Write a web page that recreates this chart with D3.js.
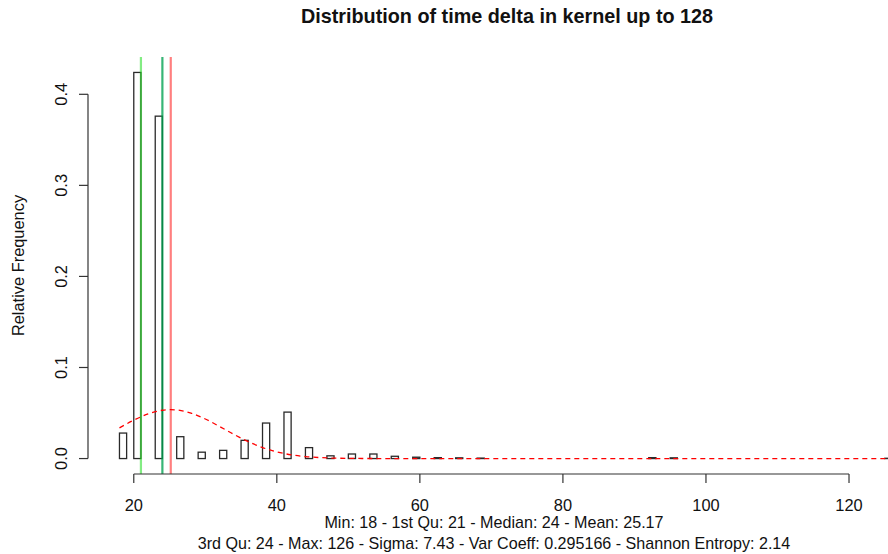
<!DOCTYPE html>
<html><head><meta charset="utf-8">
<script src="https://cdn.jsdelivr.net/npm/d3@7"></script>
<style>
html,body{margin:0;padding:0;background:#fff;}
svg{display:block;font-family:"Liberation Sans", Arial, Helvetica, sans-serif;}
</style></head><body>
<svg id="chart" width="888" height="554"></svg>
<script>
// ---------------- data ----------------
const chartTitle = "Distribution of time delta in kernel up to 128";
const yAxisLabel = "Relative Frequency";
const subLines = [
  "Min: 18 - 1st Qu: 21 - Median: 24 - Mean: 25.17",
  "3rd Qu: 24 - Max: 126 - Sigma: 7.43 - Var Coeff: 0.295166 - Shannon Entropy: 2.14"
];
const xTicks = [20, 40, 60, 80, 100, 120];
const yTicks = [0, 0.1, 0.2, 0.3, 0.4];
const yTickLabels = ["0.0", "0.1", "0.2", "0.3", "0.4"];
const histBreaksRange = [18, 126];          // unit-width bins
const xLimits = [18, 128];
const yLimits = [0, 0.424];
// non-empty bins: lower break and relative frequency
const binLower = [18, 20, 23, 26, 29, 32, 35, 38, 41, 44, 47, 50, 53, 56, 59, 62, 65, 68, 92, 95, 125];
const relFreq  = [0.028, 0.424, 0.376, 0.024, 0.007, 0.009, 0.020, 0.039, 0.051, 0.012, 0.003, 0.005, 0.005, 0.0025, 0.0015, 0.001, 0.0008, 0.0005, 0.001, 0.0008, 0.0003];
// fitted normal density curve (mean 25.17, sigma 7.43)
const densX = [18, 20, 22, 24, 25.17, 26, 28, 30, 32, 34, 36, 38, 40, 42, 44, 46, 48, 50, 54, 60, 80, 100, 128];
const densY = [0.0337, 0.04215, 0.04902, 0.05303, 0.05369, 0.05336, 0.04993, 0.04346, 0.03519, 0.0265, 0.01856, 0.01209, 0.00732, 0.00413, 0.00216, 0.00106, 0.00048, 0.0002, 0.00003, 0, 0, 0, 0];
// summary markers
const markerNames  = ["1st Qu", "Median", "Mean"];
const markerValues = [21, 24, 25.17];

// ---------------- layout ----------------
const W = 888, H = 554;
const plot = {left: 88, top: 57, bottom: 474, right: 937.7};
const fs = 16.4;
const svg = d3.select("#chart");

const padX = (xLimits[1] - xLimits[0]) * 0.04;
const padY = (yLimits[1] - yLimits[0]) * 0.04;
const x = d3.scaleLinear().domain([xLimits[0] - padX, xLimits[1] + padX]).range([plot.left, plot.right]);
const y = d3.scaleLinear().domain([yLimits[0] - padY, yLimits[1] + padY]).range([plot.bottom, plot.top]);

svg.append("defs").append("clipPath").attr("id", "clip")
  .append("rect").attr("x", plot.left).attr("y", plot.top)
  .attr("width", plot.right - plot.left).attr("height", plot.bottom - plot.top);

const g = svg.append("g").attr("clip-path", "url(#clip)");

// histogram bins (all unit bins, empty ones have zero height)
const freqByLower = new Map(binLower.map((b, i) => [b, relFreq[i]]));
const bins = d3.range(histBreaksRange[0], histBreaksRange[1]).map(b => ({lo: b, hi: b + 1, v: freqByLower.get(b) || 0}));

g.selectAll("rect.bar").data(bins).join("rect")
  .attr("class", "bar")
  .attr("x", d => x(d.lo))
  .attr("width", d => x(d.hi) - x(d.lo))
  .attr("y", d => y(d.v))
  .attr("height", d => y(0) - y(d.v))
  .attr("fill", "#fff")
  .attr("stroke", "#2a2a2a")
  .attr("stroke-width", 1.3);

// vertical summary lines
const markerColors = ["rgba(30,220,30,0.55)", "rgba(0,160,80,0.78)", "rgba(255,0,0,0.5)"];
g.selectAll("line.marker").data(markerValues).join("line")
  .attr("class", "marker")
  .attr("x1", d => x(d)).attr("x2", d => x(d))
  .attr("y1", plot.top).attr("y2", plot.bottom)
  .attr("stroke", (d, i) => markerColors[i])
  .attr("stroke-width", 2.2);

// density curve
const line = d3.line().x((d, i) => x(densX[i])).y(d => y(d)).curve(d3.curveMonotoneX);
g.append("path").datum(densY)
  .attr("d", line)
  .attr("fill", "none")
  .attr("stroke", "#ff0000")
  .attr("stroke-width", 1.3)
  .attr("stroke-dasharray", "5,4");

// ---------------- axes ----------------
const axisColor = "#333";
// x axis
const xa = svg.append("g");
xa.append("line").attr("x1", x(xTicks[0])).attr("x2", x(xTicks[xTicks.length - 1]))
  .attr("y1", plot.bottom).attr("y2", plot.bottom).attr("stroke", axisColor).attr("stroke-width", 1.2);
xa.selectAll("line.tick").data(xTicks).join("line").attr("class", "tick")
  .attr("x1", d => x(d)).attr("x2", d => x(d))
  .attr("y1", plot.bottom).attr("y2", plot.bottom + 9).attr("stroke", axisColor).attr("stroke-width", 1.2);
xa.selectAll("text").data(xTicks).join("text")
  .attr("x", d => x(d)).attr("y", 511)
  .attr("text-anchor", "middle").attr("font-size", fs).attr("fill", "#111")
  .text(d => d);

// y axis
const ya = svg.append("g");
ya.append("line").attr("x1", plot.left).attr("x2", plot.left)
  .attr("y1", y(yTicks[0])).attr("y2", y(yTicks[yTicks.length - 1])).attr("stroke", axisColor).attr("stroke-width", 1.2);
ya.selectAll("line.tick").data(yTicks).join("line").attr("class", "tick")
  .attr("x1", plot.left - 9).attr("x2", plot.left)
  .attr("y1", d => y(d)).attr("y2", d => y(d)).attr("stroke", axisColor).attr("stroke-width", 1.2);
ya.selectAll("text").data(yTicks).join("text")
  .attr("transform", d => `translate(67,${y(d)}) rotate(-90)`)
  .attr("text-anchor", "middle").attr("font-size", fs).attr("fill", "#111")
  .text((d, i) => yTickLabels[i]);

// y label
svg.append("text")
  .attr("transform", `translate(24,${(plot.top + plot.bottom) / 2}) rotate(-90)`)
  .attr("text-anchor", "middle").attr("font-size", fs).attr("fill", "#111")
  .text(yAxisLabel);

// title
svg.append("text")
  .attr("x", 507).attr("y", 23)
  .attr("text-anchor", "middle").attr("font-size", 19.8).attr("font-weight", "bold").attr("fill", "#111")
  .text(chartTitle);

// sub lines
svg.selectAll("text.sub").data(subLines).join("text").attr("class", "sub")
  .attr("x", 494).attr("y", (d, i) => 528 + i * 21)
  .attr("text-anchor", "middle").attr("font-size", 16.1).attr("fill", "#111")
  .text(d => d);
</script>
</body></html>
